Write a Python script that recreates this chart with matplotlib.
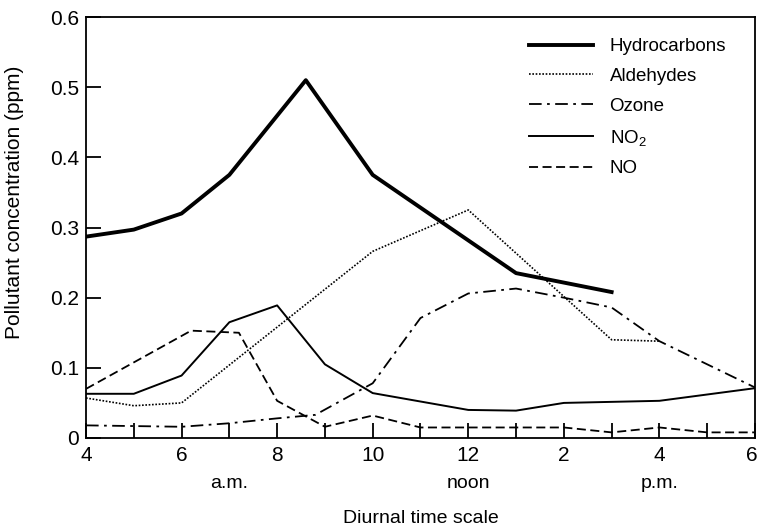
import matplotlib
matplotlib.use("Agg")
import matplotlib.pyplot as plt
import matplotlib.transforms as mtransforms
from matplotlib.ticker import MultipleLocator

plt.rcParams['font.family'] = ['Liberation Sans', 'DejaVu Sans']
plt.rcParams['mathtext.default'] = 'regular'

# hours: 4 = 4 a.m., 12 = noon, 18 = 6 p.m.
hc_t = [4, 5, 6, 7, 8.6, 10, 13, 15]
hc_v = [0.287, 0.297, 0.32, 0.375, 0.51, 0.375, 0.235, 0.208]

ald_t = [4, 5, 6, 10, 12, 15, 16]
ald_v = [0.057, 0.046, 0.05, 0.266, 0.325, 0.14, 0.138]

oz_t = [4, 5, 6, 7, 8, 8.8, 10, 11, 12, 13, 14, 15, 16, 18]
oz_v = [0.018, 0.017, 0.016, 0.021, 0.028, 0.033, 0.078, 0.171, 0.206, 0.213, 0.2, 0.186, 0.138, 0.072]

no2_t = [4, 5, 6, 7, 8, 9, 10, 12, 13, 14, 16, 18]
no2_v = [0.063, 0.063, 0.089, 0.165, 0.189, 0.105, 0.064, 0.04, 0.039, 0.05, 0.053, 0.071]

no_t = [4, 6.2, 7.2, 8, 9, 10, 11, 14, 15, 16, 17, 18]
no_v = [0.07, 0.153, 0.15, 0.053, 0.016, 0.032, 0.015, 0.015, 0.008, 0.015, 0.008, 0.008]

xtick_pos = [4, 6, 8, 10, 12, 14, 16, 18]
xtick_lab = ['4', '6', '8', '10', '12', '2', '4', '6']
period_pos = [7, 12, 16]
period_lab = ['a.m.', 'noon', 'p.m.']

fig = plt.figure(figsize=(7.59, 5.32), dpi=100)
ax = fig.add_axes([0.1133, 0.1767, 0.8814, 0.7913])

ax.plot(hc_t, hc_v, color='black', lw=2.8, label='Hydrocarbons')
ax.plot(ald_t, ald_v, color='black', lw=1.2, ls=(0, (1, 1)), label='Aldehydes')
ax.plot(oz_t, oz_v, color='black', lw=1.3, ls=(0, (7, 3, 1.5, 3)), label='Ozone')
ax.plot(no2_t, no2_v, color='black', lw=1.4, label='NO$_2$')
ax.plot(no_t, no_v, color='black', lw=1.3, ls=(0, (5, 2.5)), label='NO')

ax.set_xlim(4, 18)
ax.set_ylim(0, 0.6)
ax.set_xticks(xtick_pos)
ax.set_xticklabels(xtick_lab)
ax.xaxis.set_minor_locator(MultipleLocator(1))
ax.set_yticks([0, 0.1, 0.2, 0.3, 0.4, 0.5, 0.6])
ax.set_yticklabels(['0', '0.1', '0.2', '0.3', '0.4', '0.5', '0.6'])
ax.tick_params(axis='both', which='both', direction='in', length=11, width=1.3, labelsize=15)
ax.tick_params(axis='x', pad=6)
ax.tick_params(axis='y', pad=5)
for s in ax.spines.values():
    s.set_linewidth(1.3)

# last "6" sits on the figure edge, nudge it in a little
last = ax.get_xticklabels()[-1]
last.set_transform(last.get_transform() + mtransforms.ScaledTranslation(-3 / 100, 0, fig.dpi_scale_trans))

for p, l in zip(period_pos, period_lab):
    ax.text(p, -0.053, l, ha='center', va='top', fontsize=14)

ax.set_xlabel('Diurnal time scale', fontsize=14, labelpad=32)
ax.set_ylabel('Pollutant concentration (ppm)', fontsize=15, labelpad=12)
ax.yaxis.set_label_coords(-0.092, 0.56)

leg = ax.legend(loc='upper right', frameon=False, fontsize=13.5, handlelength=3.4,
                labelspacing=0.68, handletextpad=0.9, borderaxespad=0,
                bbox_to_anchor=(0.968, 0.968))

fig.savefig('out.png', dpi=100)
